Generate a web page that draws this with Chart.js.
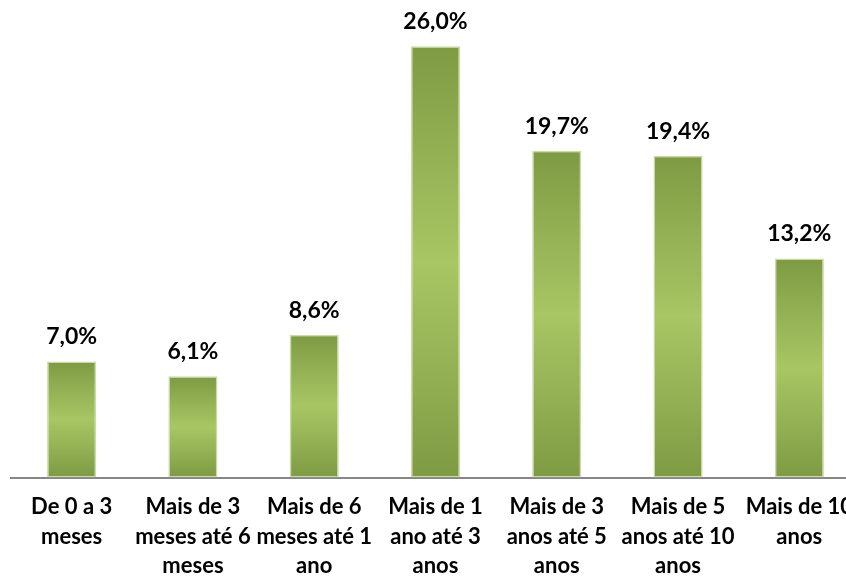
<!DOCTYPE html>
<html>
<head>
<meta charset="utf-8">
<script src="https://cdn.jsdelivr.net/npm/chart.js@4/dist/chart.umd.min.js"></script>
<style>
    html, body { margin: 0; padding: 0; background: #fff; overflow: hidden; }
    #wrap { width: 868px; height: 596px; }
</style>
</head>
<body>
<div id="wrap"><canvas id="myChart"></canvas></div>
<script>
// faixas de tempo
const categories = [
    ['De 0 a 3', 'meses'],
    ['Mais de 3', 'meses até 6', 'meses'],
    ['Mais de 6', 'meses até 1', 'ano'],
    ['Mais de 1', 'ano até 3', 'anos'],
    ['Mais de 3', 'anos até 5', 'anos'],
    ['Mais de 5', 'anos até 10', 'anos'],
    ['Mais de 10', 'anos']
];
const values = [7.0, 6.1, 8.6, 26.0, 19.7, 19.4, 13.2];
const valueLabels = ['7,0%', '6,1%', '8,6%', '26,0%', '19,7%', '19,4%', '13,2%'];

//gradiente escuro-claro-escuro em cada barra
function barGradient(ctx) {
    let chart = ctx.chart;
    if (!chart.chartArea || ctx.type !== 'data') return '#93b155';
    let y = chart.scales.y;
    let top = y.getPixelForValue(ctx.parsed.y);
    let base = y.getPixelForValue(0);
    let g = chart.ctx.createLinearGradient(0, top, 0, base);
    g.addColorStop(0, '#7e9b44');
    g.addColorStop(0.5, '#a9c664');
    g.addColorStop(1, '#7e9b44');
    return g;
}

//etichette sopra le barre
const valueLabelPlugin = {
    id: 'valueLabels',
    afterDatasetsDraw(chart) {
        let ctx = chart.ctx;
        let meta = chart.getDatasetMeta(0);
        ctx.save();
        ctx.font = 'bold 23px Lato';
        ctx.fillStyle = '#000';
        ctx.textAlign = 'center';
        ctx.textBaseline = 'bottom';
        meta.data.forEach((bar, i) => {
            ctx.fillText(valueLabels[i], bar.x, bar.y - 13);
        });
        ctx.restore();
    }
};

const config = {
    type: 'bar',
    data: {
        labels: categories,
        datasets: [{
            data: values,
            backgroundColor: barGradient,
            borderColor: '#c9dba6',
            borderWidth: 1.5,
            borderSkipped: false,
            barPercentage: 0.405,
            categoryPercentage: 1
        }]
    },
    options: {
        responsive: true,
        maintainAspectRatio: false,
        animation: false,
        layout: {
            padding: { top: 13, left: 11, right: 0, bottom: 0 }
        },
        plugins: {
            legend: { display: false },
            tooltip: { enabled: false }
        },
        scales: {
            x: {
                grid: { display: false, drawTicks: false },
                border: { display: true, color: '#868686', width: 2 },
                ticks: {
                    color: '#000',
                    padding: 15,
                    maxRotation: 0,
                    autoSkip: false,
                    font: { family: 'Lato', weight: 'bold', size: 22, lineHeight: '29.5px' }
                }
            },
            y: {
                display: false,
                min: 0,
                max: 28
            }
        }
    },
    plugins: [valueLabelPlugin]
};

let ctx = document.getElementById('myChart').getContext('2d');
var myChart = new Chart(ctx, config);
</script>
</body>
</html>
